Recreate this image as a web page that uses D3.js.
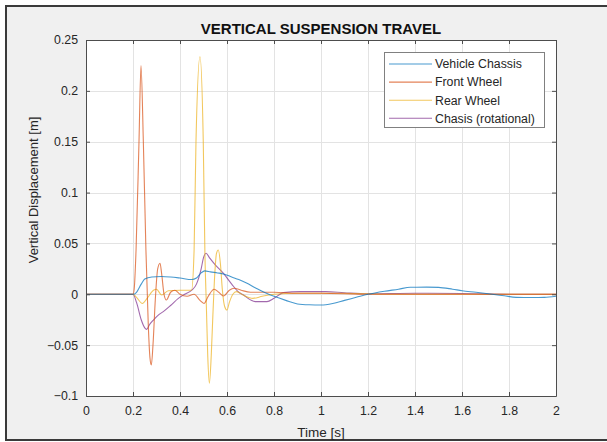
<!DOCTYPE html>
<html><head><meta charset="utf-8">
<script src="https://cdn.jsdelivr.net/npm/d3@7"></script>
<style>
html,body{margin:0;padding:0;background:#fff;}
svg{display:block;}
text{font-family:"Liberation Sans",Arial,Helvetica,sans-serif;}
</style></head>
<body>
<svg id="chart" width="607" height="442"></svg>
<script>
// ---- data ----
const title = "VERTICAL SUSPENSION TRAVEL";
const xLabel = "Time [s]";
const yLabel = "Vertical Displacement [m]";
const xTicks = [0,0.2,0.4,0.6,0.8,1,1.2,1.4,1.6,1.8,2];
const yTicks = [-0.1,-0.05,0,0.05,0.1,0.15,0.2,0.25];
const seriesNames = ["Vehicle Chassis","Front Wheel","Rear Wheel","Chasis (rotational)"];
const seriesColors = ["#0072BD","#D95319","#EDB120","#7E2F8E"];

const chassisT = [0,0.2,0.215,0.235,0.25,0.28,0.32,0.36,0.4,0.45,0.47,0.49,0.505,0.53,0.56,0.585,0.62,0.65,0.683,0.72,0.768,0.8,0.85,0.9,0.95,1.0,1.05,1.1,1.15,1.2,1.27,1.33,1.38,1.45,1.5,1.56,1.6,1.66,1.72,1.78,1.83,1.9,1.95,2.0];
const chassisV = [0,0,0.002,0.01,0.015,0.017,0.0175,0.017,0.016,0.0145,0.016,0.021,0.023,0.022,0.021,0.02,0.017,0.0145,0.011,0.0065,0.001,-0.002,-0.006,-0.0095,-0.0103,-0.0105,-0.009,-0.006,-0.003,0.0,0.003,0.005,0.0069,0.007,0.0068,0.005,0.0035,0.002,0.0003,-0.0015,-0.003,-0.0032,-0.003,-0.002];

const frontT = [0,0.2,0.205,0.213,0.2255,0.234,0.244,0.255,0.265,0.272,0.278,0.285,0.295,0.305,0.315,0.322,0.332,0.342,0.36,0.378,0.4,0.43,0.46,0.485,0.502,0.52,0.545,0.565,0.585,0.61,0.63,0.66,0.7,0.8,0.9,1.0,1.2,1.5,2.0];
const frontV = [0,0,0.005,0.0435,0.15,0.225,0.15,0.0435,-0.03,-0.062,-0.0695,-0.05,-0.005,0.025,0.0305,0.02,0.0,-0.0056,0.002,0.004,0.0,-0.002,0.0,-0.006,-0.009,-0.002,0.005,0.002,-0.0017,0.004,0.006,0.004,0.002,0.002,0.001,0.001,0.0,0.0,0.0];

const rearT = [0,0.2,0.215,0.24,0.26,0.287,0.3,0.322,0.35,0.4,0.449,0.46,0.468,0.485,0.499,0.506,0.512,0.518,0.525,0.533,0.54,0.548,0.555,0.563,0.572,0.58,0.59,0.6,0.61,0.625,0.64,0.67,0.71,0.75,0.8,0.9,1.1,1.3,2.0];
const rearV = [0,0,-0.003,-0.009,-0.004,0.004,0.005,-0.0007,0.0035,0.004,0.004,0.0435,0.15,0.2336,0.15,0.04,-0.01,-0.06,-0.0875,-0.06,-0.02,0.02,0.04,0.0436,0.03,0.005,-0.012,-0.0155,-0.008,0.0,0.0026,-0.001,-0.004,-0.002,0.0,0.001,0.001,0.0,0.0];

const rotT = [0,0.2,0.215,0.235,0.25,0.258,0.27,0.287,0.31,0.329,0.36,0.393,0.42,0.45,0.47,0.49,0.5,0.511,0.525,0.55,0.585,0.62,0.65,0.67,0.7,0.72,0.77,0.8,0.84,0.911,1.02,1.1,1.2,1.4,1.6,1.8,2.0];
const rotV = [0,0,-0.008,-0.025,-0.033,-0.0345,-0.03,-0.0253,-0.02,-0.017,-0.011,-0.004,0.0,0.004,0.01,0.025,0.036,0.0403,0.036,0.029,0.0206,0.01,0.002,-0.0007,-0.0055,-0.0072,-0.0072,-0.004,0.0016,0.0026,0.0026,0.0015,0.0005,0.001,0.0007,0.0,0.0];

const seriesT = [chassisT, frontT, rearT, rotT];
const seriesV = [chassisV, frontV, rearV, rotV];

// ---- layout ----
const svg = d3.select("#chart");
const L = 86, R = 556, T = 40, B = 396;
const x = d3.scaleLinear().domain([0,2]).range([L,R]);
const y = d3.scaleLinear().domain([-0.1,0.25]).range([B,T]);

// background + frame
svg.append("rect").attr("x",0).attr("y",0).attr("width",607).attr("height",442).attr("fill","#ffffff");
svg.append("rect").attr("x",6).attr("y",6).attr("width",620).attr("height",434)
  .attr("fill","#f0f0f0").attr("stroke","#3a3a3a").attr("stroke-width",2);

// plot area
svg.append("rect").attr("x",L).attr("y",T).attr("width",R-L).attr("height",B-T).attr("fill","#ffffff");

// grid
const grid = svg.append("g").attr("stroke","#e3e3e3").attr("stroke-width",1);
xTicks.forEach(t=>{ grid.append("line").attr("x1",Math.round(x(t))+0.5).attr("x2",Math.round(x(t))+0.5).attr("y1",T).attr("y2",B); });
yTicks.forEach(t=>{ grid.append("line").attr("y1",Math.round(y(t))+0.5).attr("y2",Math.round(y(t))+0.5).attr("x1",L).attr("x2",R); });

// lines
svg.append("clipPath").attr("id","clip").append("rect").attr("x",L).attr("y",T).attr("width",R-L).attr("height",B-T);
const line = d3.line().x(d=>x(d[0])).y(d=>y(d[1])).curve(d3.curveMonotoneX);
const lg = svg.append("g").attr("clip-path","url(#clip)");
[3,2,1,0].forEach(i=>{
  const pts = seriesT[i].map((t,k)=>[t,seriesV[i][k]]);
  lg.append("path").datum(pts).attr("d",line).attr("fill","none")
    .attr("stroke",seriesColors[i]).attr("stroke-width",1.1).attr("stroke-opacity",0.72);
});

// axes
const axCol = "#4d4d4d";
const fmt = d3.format("~g");
const xAxis = d3.axisBottom(x).tickValues(xTicks).tickSizeInner(-4).tickSizeOuter(0).tickPadding(10).tickFormat(fmt);
const yAxis = d3.axisLeft(y).tickValues(yTicks).tickSizeInner(-4).tickSizeOuter(0).tickPadding(8).tickFormat(fmt);
const gx = svg.append("g").attr("transform",`translate(0,${B})`).call(xAxis);
const gy = svg.append("g").attr("transform",`translate(${L},0)`).call(yAxis);
const gxt = svg.append("g").attr("transform",`translate(0,${T})`).call(d3.axisTop(x).tickValues(xTicks).tickSizeInner(-4).tickSizeOuter(0).tickFormat(""));
const gyr = svg.append("g").attr("transform",`translate(${R},0)`).call(d3.axisRight(y).tickValues(yTicks).tickSizeInner(-4).tickSizeOuter(0).tickFormat(""));
[gx,gy,gxt,gyr].forEach(g=>{
  g.select(".domain").attr("stroke",axCol);
  g.selectAll(".tick line").attr("stroke",axCol);
  g.selectAll(".tick text").attr("fill","#262626").attr("font-size",12.3).attr("font-family","Liberation Sans, Arial, sans-serif");
});

// titles
svg.append("text").attr("x",(L+R)/2).attr("y",34).attr("text-anchor","middle")
  .attr("font-size",15).attr("font-weight","bold").attr("fill","#111").text(title);
svg.append("text").attr("x",(L+R)/2).attr("y",437).attr("text-anchor","middle")
  .attr("font-size",13.5).attr("fill","#262626").text(xLabel);
svg.append("text").attr("transform","translate(38,190) rotate(-90)").attr("text-anchor","middle")
  .attr("font-size",13).attr("fill","#262626").text(yLabel);

// legend
const leg = svg.append("g");
leg.append("rect").attr("x",384.5).attr("y",52.5).attr("width",160).attr("height",75)
  .attr("fill","#fff").attr("stroke","#808080").attr("stroke-width",1);
seriesNames.forEach((n,i)=>{
  const yy = 64 + i*18.1;
  leg.append("line").attr("x1",389).attr("x2",432).attr("y1",yy).attr("y2",yy)
    .attr("stroke",seriesColors[i]).attr("stroke-width",1.1).attr("stroke-opacity",0.72);
  leg.append("text").attr("x",435).attr("y",yy+4.3).attr("font-size",12.3).attr("fill","#262626").text(n);
});
</script>
</body></html>
